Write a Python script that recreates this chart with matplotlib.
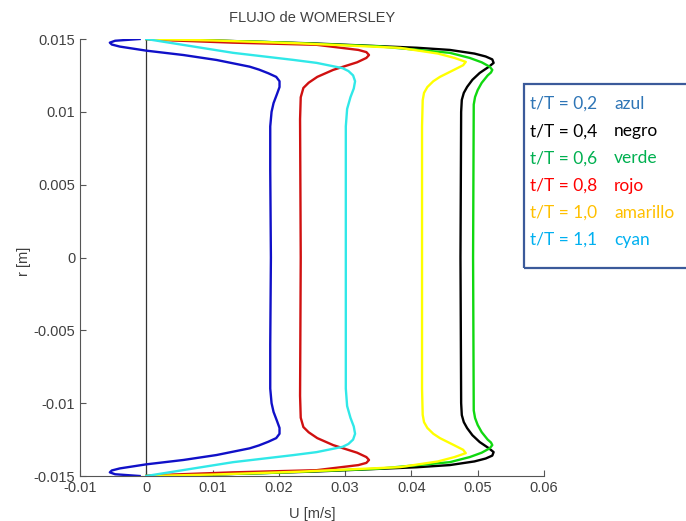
import matplotlib
matplotlib.use('Agg')
import matplotlib.pyplot as plt
import numpy as np
from matplotlib.patches import Rectangle

# perfiles (mitad superior, r >= 0); se reflejan para r < 0
r_azul = [0, 0.006, 0.0090, 0.0100, 0.0106, 0.0112, 0.0117, 0.0121, 0.0124, 0.01265, 0.0129, 0.0131, 0.01356, 0.0139, 0.0142, 0.01448, 0.01462, 0.01475, 0.01488, 0.0150]
u_azul = [0.0188, 0.0187, 0.0187, 0.0189, 0.0192, 0.0197, 0.0201, 0.0201, 0.0196, 0.0184, 0.0170, 0.0156, 0.0106, 0.0056, 0.0, -0.0040, -0.0052, -0.0055, -0.0047, -0.001]

r_negro = [0, 0.0100, 0.01082, 0.0113, 0.01171, 0.0122, 0.01267, 0.01310, 0.01336, 0.0136, 0.0138, 0.0140, 0.01425, 0.0144, 0.0147, 0.0149, 0.0150]
u_negro = [0.0474, 0.0475, 0.0476, 0.0479, 0.0484, 0.0492, 0.0503, 0.0517, 0.0524, 0.0522, 0.0512, 0.0495, 0.0458, 0.0408, 0.025, 0.010, 0.0]

r_verde = [0, 0.0105, 0.01102, 0.0115, 0.01199, 0.0125, 0.0127, 0.01288, 0.0131, 0.0134, 0.0137, 0.01405, 0.0145, 0.0148, 0.0150]
u_verde = [0.0493, 0.0494, 0.0496, 0.0500, 0.0506, 0.0515, 0.0520, 0.0522, 0.0518, 0.0506, 0.0488, 0.0458, 0.035, 0.018, 0.0]

r_rojo = [0, 0.0095, 0.0110, 0.01164, 0.0120, 0.0124, 0.01288, 0.0134, 0.0137, 0.0139, 0.0141, 0.01425, 0.0146, 0.01475, 0.0149, 0.0150]
u_rojo = [0.0233, 0.0232, 0.0233, 0.0237, 0.0245, 0.0258, 0.0282, 0.0318, 0.0332, 0.0336, 0.0332, 0.0320, 0.0257, 0.013, 0.004, 0.0]

r_amarillo = [0, 0.009, 0.0108, 0.0113, 0.0117, 0.0121, 0.0124, 0.0129, 0.0132, 0.01343, 0.0137, 0.0140, 0.01439, 0.0147, 0.0149, 0.0150]
u_amarillo = [0.0416, 0.0416, 0.0417, 0.0419, 0.0424, 0.0433, 0.0443, 0.0465, 0.0478, 0.0482, 0.0465, 0.0440, 0.0383, 0.0232, 0.010, 0.0]

r_cyan = [0, 0.009, 0.0102, 0.0110, 0.0116, 0.0121, 0.0125, 0.0128, 0.0130, 0.01336, 0.01357, 0.01405, 0.0146, 0.0150]
u_cyan = [0.0301, 0.0301, 0.0303, 0.0308, 0.0313, 0.0315, 0.0312, 0.0305, 0.0296, 0.0257, 0.0221, 0.0131, 0.0055, 0.0]

curvas = [(r_azul, u_azul, '#1010c8'), (r_negro, u_negro, 'black'), (r_verde, u_verde, '#10d810'),
          (r_rojo, u_rojo, '#d01010'), (r_amarillo, u_amarillo, '#ffff00'), (r_cyan, u_cyan, '#30e8e8')]

leyenda = ['t/T = 0,2', 't/T = 0,4', 't/T = 0,6', 't/T = 0,8', 't/T = 1,0', 't/T = 1,1']
nombres = ['azul', 'negro', 'verde', 'rojo', 'amarillo', 'cyan']
colores_ley = ['#2E75B6', 'black', '#00B050', '#FF0000', '#FFC000', '#00B0F0']

xticks = [-0.01, 0, 0.01, 0.02, 0.03, 0.04, 0.05, 0.06]
xlabels = ['-0.01', '0', '0.01', '0.02', '0.03', '0.04', '0.05', '0.06']
yticks = [-0.015, -0.01, -0.005, 0, 0.005, 0.01, 0.015]
ylabels = ['-0.015', '-0.01', '-0.005', '0', '0.005', '0.01', '0.015']

fuente = ['Liberation Sans Narrow', 'Liberation Sans', 'DejaVu Sans']

fig = plt.figure(figsize=(6.86, 5.21), dpi=100)
ax = fig.add_axes([80/686, 1-476/521, 464/686, 437/521])

# linea vertical en U = 0
ax.axvline(0, color='#333333', lw=0.9)

for r, u, c in curvas:
    r = np.array(r); u = np.array(u)
    rr = np.concatenate([-r[::-1], r[1:]])
    uu = np.concatenate([u[::-1], u[1:]])
    ax.plot(uu, rr, color=c, lw=1.7, solid_joinstyle='round')

ax.set_xlim(-0.01, 0.06)
ax.set_ylim(-0.015, 0.015)
ax.set_xticks(xticks)
ax.set_xticklabels(xlabels, family=fuente, fontsize=10.5, color='#404040')
ax.set_yticks(yticks)
ax.set_yticklabels(ylabels, family=fuente, fontsize=10.5, color='#404040')
ax.tick_params(direction='in', length=4, color='#555555')
for s in ['top', 'right']:
    ax.spines[s].set_visible(False)
for s in ['left', 'bottom']:
    ax.spines[s].set_color('#555555')

ax.set_title('FLUJO de WOMERSLEY', family=fuente, fontsize=10.5, color='#404040', pad=12)
ax.set_xlabel('U [m/s]', family=fuente, fontsize=10.5, color='#404040', labelpad=9)
ax.set_ylabel('r [m]', family=fuente, fontsize=10.5, color='#404040')
ax.yaxis.set_label_coords(-(80 - 31)/464, 0.49)

# cuadro de leyenda (texto aparte)
fig.patches.append(Rectangle((524/686, 1-268/521), 0.3, 184/521, transform=fig.transFigure,
                             fill=False, edgecolor='#3B5A9A', lw=1.6, clip_on=False))
for i in range(len(leyenda)):
    y = 1 - (104 + i*27.2)/521
    fig.text(530/686, y, leyenda[i], color=colores_ley[i], fontsize=12.5, family=['Lato', 'DejaVu Sans'], va='center')
    fig.text(614/686, y, nombres[i], color=colores_ley[i], fontsize=12.5, family=['Lato', 'DejaVu Sans'], va='center')

fig.savefig('out.png', dpi=100)
